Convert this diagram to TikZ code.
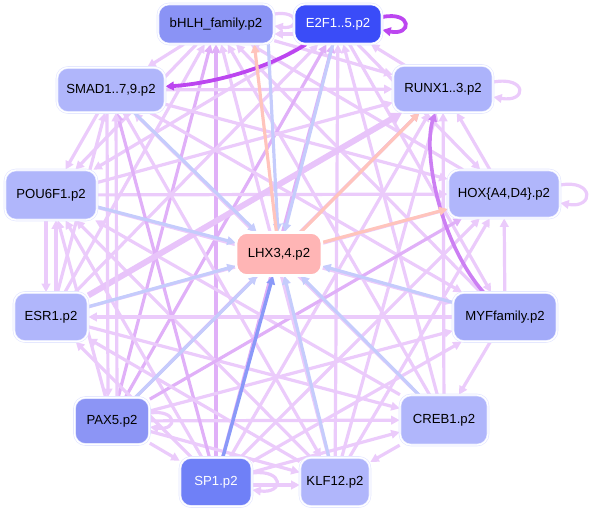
\documentclass[tikz,border=0pt]{standalone}
\usepackage{fontspec}
\setmainfont{Liberation Sans}
\usetikzlibrary{arrows.meta}
\definecolor{lav}{HTML}{EBCBFB}
\definecolor{lavb}{HTML}{E0B0F8}
\definecolor{lavw}{HTML}{E8C4FA}
\definecolor{bluee}{HTML}{C5CCFC}
\definecolor{blued}{HTML}{8A99F8}
\definecolor{salm}{HTML}{FFC4BC}
\definecolor{purpb}{HTML}{CC7FF3}
\definecolor{purpd}{HTML}{BC46F0}
\definecolor{nlight}{HTML}{B0B6FB}
\definecolor{nrunx}{HTML}{ACB3FB}
\definecolor{nmyf}{HTML}{A3ABF9}
\definecolor{nbhlh}{HTML}{8A93F5}
\definecolor{npax}{HTML}{8C95F5}
\definecolor{nsp}{HTML}{6F80F7}
\definecolor{ne2f}{HTML}{3A4CF8}
\definecolor{nlhx}{HTML}{FFB5B5}
\definecolor{nbord}{HTML}{E2E5FF}
\pgfdeclarelayer{bg}
\pgfsetlayers{bg,main}
\tikzset{
  nd/.style={rectangle, rounded corners=11bp, draw=nbord, line width=0.6bp,
    double=white, double distance=1.4bp, inner sep=0pt,
    font=\fontsize{13.2}{15}\selectfont},
  tip/.style={-{Triangle[length=8.5bp,width=8.5bp]}},
  pe/.style={draw=lav, line width=3.2bp, tip},
  pb/.style={draw=lavb, line width=3.2bp, tip},
  pw/.style={draw=lavw, line width=6bp, -{Triangle[length=11bp,width=12bp]}},
  be/.style={draw=bluee, line width=3.2bp, tip},
  bd/.style={draw=blued, line width=3.4bp, tip},
  se/.style={draw=salm, line width=3.2bp, tip},
  bp/.style={draw=purpb, line width=3.6bp, tip},
  dp/.style={draw=purpd, line width=3.8bp, tip},
}
\begin{document}
\begin{tikzpicture}[x=1bp,y=-1bp]
\useasboundingbox (0,0) rectangle (591,512);
% nodes
\node[nd, fill=nbhlh, minimum width=116bp, minimum height=40bp] (B) at (216,24) {bHLH\_family.p2};
\node[nd, fill=ne2f, text=white, minimum width=88bp, minimum height=40bp] (E) at (338,24) {E2F1..5.p2};
\node[nd, fill=nlight, minimum width=108bp, minimum height=45bp] (S) at (111,90) {SMAD1..7,9.p2};
\node[nd, fill=nrunx, minimum width=100bp, minimum height=47bp] (R) at (443,89) {RUNX1..3.p2};
\node[nd, fill=nlight, minimum width=92bp, minimum height=50bp] (P) at (51,195) {POU6F1.p2};
\node[nd, fill=nlight, minimum width=112bp, minimum height=48bp] (H) at (504,194) {HOX\{A4,D4\}.p2};
\node[nd, fill=nlhx, draw=white, minimum width=86bp, minimum height=43bp] (L) at (279,254) {LHX3,4.p2};
\node[nd, fill=nlight, minimum width=74bp, minimum height=49bp] (ES) at (51,317) {ESR1.p2};
\node[nd, fill=nmyf, minimum width=104bp, minimum height=49bp] (M) at (505,317) {MYFfamily.p2};
\node[nd, fill=npax, minimum width=75bp, minimum height=47bp] (PA) at (112,421) {PAX5.p2};
\node[nd, fill=nlight, minimum width=88bp, minimum height=50bp] (C) at (444,420) {CREB1.p2};
\node[nd, fill=nsp, text=white, minimum width=72bp, minimum height=49bp] (SP) at (216,482) {SP1.p2};
\node[nd, fill=nlight, minimum width=70bp, minimum height=49bp] (K) at (335,482) {KLF12.p2};

\begin{pgfonlayer}{bg}
% long lavender edges
\draw[pb] (PA) -- (B);
\draw[pb] (SP) -- (B);
\draw[pe] (K) -- (B);
\draw[pe] (C) -- (B);
\draw[pe] (M) -- (B);
\draw[pe] (H) -- (B);
\draw[pe] (ES) -- (B);
\draw[pe] (B) -- (P);
\draw[pe] (B) -- (R);
\draw[pe] (E) -- (H);
\draw[pe] (E) -- (M);
\draw[pe] (C) -- (E);
\draw[pe] (K) -- (E);
\draw[pb] (SP) -- (E);
\draw[pb] (PA) -- (E);
\draw[pe] (ES) -- (E);
\draw[pe] (E) -- (P);
\draw[pe] (C) -- (R);
\draw[pe] (K) -- (R);
\draw[pe] (SP) -- (R);
\draw[pe] (P) -- (R);
\draw[pe] (S) -- (R);
\draw[pe] (K) -- (H);
\draw[pe] (SP) -- (H);
\draw[pe] (ES) -- (H);
\draw[pe] (P) -- (H);
\draw[pe] (S) -- (H);
\draw[pe] (SP) -- (M);
\draw[pe] (PA) -- (M);
\draw[pe] (P) -- (M);
\draw[pe] (S) -- (M);
\draw[pe] (SP) -- (C);
\draw[pe] (PA) -- (C);
\draw[pe] (ES) -- (C);
\draw[pe] (C) -- (P);
\draw[pe] (C) -- (S);
\draw[pe] (PA) -- (K);
\draw[pe] (K) -- (P);
\draw[pe] (S) -- (K);
\draw[pe] (SP) -- (ES);
\draw[pe] (SP) -- (P);
\draw[pb] (SP) -- (S);
\draw[pe] (PA) -- (P);
\draw[pe] (ES) -- (S);
\draw[pw] (ES) -- (R);
\draw[pb] (PA) -- (H);
\draw[pb] (PA) -- (R);
% short / ring edges
\draw[pe] (B) -- (S);
\draw[pe] (R) -- (E);
\draw[pe] ([yshift=-10bp]E.west) -- ([yshift=-10bp]B.east);
\draw[pe] (H) -- (R);
\draw[pe] (M) -- (H);
\draw[pe] (M) -- (C);
\draw[pe] (C) -- (K);
\draw[pe] ([yshift=-3bp]SP.east) -- ([yshift=-3bp]K.west);
\draw[pe] (PA) -- (SP);
\draw[pe] ([xshift=-5bp]P.south) -- ([xshift=-5bp]ES.north);
\draw[pe] ([xshift=5bp]ES.north) -- ([xshift=5bp]P.south);
\draw[pe] ([xshift=-4bp]S.south) -- ([xshift=-4bp]PA.north);
\draw[pe] ([xshift=5bp]PA.north) -- ([xshift=5bp]S.south);
\draw[pe] (S) -- (P);
\draw[pe] (M) -- (ES);
\draw[pe] (K) -- (ES);
% bold purple
\draw[dp] (E) .. controls (262,72) and (205,84) .. (S);
\draw[bp] (M) .. controls (438,240) and (423,150) .. (R);
% blue into LHX
\draw[be] (S) -- (L);
\draw[be] ([xshift=-6bp]B.south east) -- (L);
\draw[be] (E) -- (L);
\draw[be] (P) -- (L);
\draw[be] (ES) -- (L);
\draw[be] (PA) -- (L);
\draw[bd] (SP) -- (L);
\draw[be] (K) -- (L);
\draw[be] (C) -- (L);
\draw[be] (M) -- (L);
% salmon out of LHX
\draw[se] (L) -- ([xshift=-20bp]B.south east);
\draw[se] (L) -- (R);
\draw[se] (L) -- (H);
% self loops
\draw[dp] ([yshift=7bp]E.east) .. controls +(30bp,6bp) and +(30bp,-6bp) .. ([yshift=-6bp]E.east);
\draw[pe] ([yshift=7bp]R.east) .. controls +(34bp,6bp) and +(34bp,-6bp) .. ([yshift=-8bp]R.east);
\draw[pe] ([yshift=9bp]H.east) .. controls +(34bp,6bp) and +(34bp,-6bp) .. ([yshift=-9bp]H.east);
\draw[pe] ([yshift=10bp]B.east) .. controls +(26bp,4bp) and +(26bp,-4bp) .. ([yshift=-2bp]B.east);
\draw[pe] ([yshift=8bp]PA.east) .. controls +(28bp,4bp) and +(28bp,-4bp) .. ([yshift=-6bp]PA.east);
\draw[pe] ([yshift=9bp]SP.east) .. controls +(32bp,4bp) and +(32bp,-4bp) .. ([yshift=-8bp]SP.east);
\end{pgfonlayer}
\end{tikzpicture}
\end{document}
